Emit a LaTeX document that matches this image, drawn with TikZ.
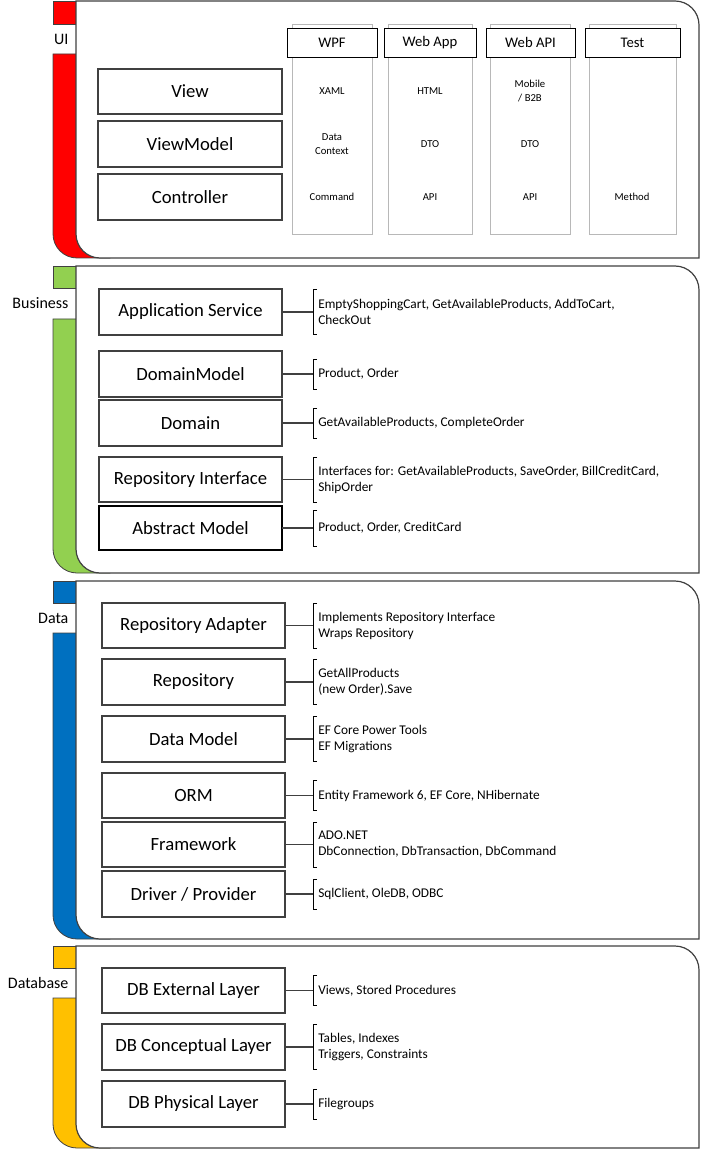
\documentclass[tikz,border=0pt]{standalone}
\usepackage{fontspec}
\setmainfont{Carlito}
\definecolor{uired}{HTML}{FF0000}
\definecolor{bizgreen}{HTML}{92D050}
\definecolor{datablue}{HTML}{0070C0}
\definecolor{dbgold}{HTML}{FFC000}
\definecolor{edge}{HTML}{404040}
\tikzset{
 box/.style={draw=edge, line width=0.8pt, fill=white, inner sep=0pt, outer sep=0pt, font=\fontsize{14}{16}\selectfont},
 panel/.style={draw=edge, line width=0.9pt, fill=white},
 bar/.style={draw=edge, line width=0.6pt},
 note/.style={anchor=west, align=left, inner sep=0pt, font=\fontsize{10}{12}\selectfont},
 link/.style={draw=edge, line width=0.8pt},
 brack/.style={draw=black, line width=0.7pt},
 colbox/.style={draw=black!28, line width=0.6pt, fill=white, inner sep=0pt, outer sep=0pt},
 head/.style={draw=black, line width=0.6pt, fill=white, inner sep=0pt, outer sep=0pt, font=\fontsize{11}{13}\selectfont},
 celltext/.style={align=center, inner sep=0pt, font=\fontsize{8}{10}\selectfont},
 layerlabel/.style={anchor=east, inner sep=1pt, font=\fontsize{12}{14}\selectfont},
}
% rectangle node by corners: style, name, x1, y1, x2, y2, text
\newcommand\rn[7]{\node[#1, minimum width={(#5-#3)*0.75pt}, minimum height={(#6-#4)*0.75pt}] (#2) at ({(#3+#5)/2},{(#4+#6)/2}) {#7};}
% layer: color, top, gap top, gap bottom, bottom, label, name
\newcommand\layer[7]{%
 \draw[bar, fill=#1] (53,#2) rectangle (76,#3);
 \draw[bar, fill=#1] (53,#4) -- (53,{#5-24}) .. controls (53,{#5-10.75}) and (63.75,#5) .. (77,#5) -- (110,#5) -- (110,#4) -- cycle;
 \draw[panel] (76,#2) -- (675,#2) .. controls (688.25,#2) and (699,{#2+10.75}) .. (699,{#2+24}) -- (699,#5) -- (100,#5) .. controls (86.75,#5) and (76,{#5-10.75}) .. (76,{#5-24}) -- cycle;
 \node[layerlabel] (#7) at (70,{(#3+#4)/2}) {#6};}
% bracket: name, box, y centre, half height, text
\newcommand\brk[5]{%
 \coordinate (#1) at (313,#3);
 \draw[link] (#2.east) -- (#2.east -| #1);
 \draw[brack] (317,{#3-#4}) -- (313,{#3-#4}) -- (313,{#3+#4}) -- (317,{#3+#4});
 \node[note] (#1t) at (318,#3) {#5};}
\begin{document}
\begin{tikzpicture}[x=0.75pt,y=-0.75pt]
\useasboundingbox (0,0) rectangle (700,1151);
% ---------------- UI
\layer{uired}{1}{24}{54}{258}{UI}{lui}
\rn{box}{view}{98}{69}{282}{114}{View}
\rn{box}{viewmodel}{98}{121}{282}{167}{ViewModel}
\rn{box}{controller}{98}{174}{282}{220}{Controller}
\rn{colbox}{cwpf}{292}{24}{372}{234}{}
\rn{colbox}{cwapp}{388}{24}{472}{234}{}
\rn{colbox}{cwapi}{490}{24}{570}{234}{}
\rn{colbox}{ctest}{589}{24}{676}{234}{}
\rn{head}{hwpf}{287}{28}{377}{57}{WPF}
\rn{head}{hwapp}{384}{28}{476}{57}{Web App}
\rn{head}{hwapi}{486}{28}{575}{57}{Web API}
\rn{head}{htest}{585}{28}{680}{57}{Test}
\node[celltext] (wpf1) at (332,91) {XAML};
\node[celltext] (wpf2) at (332,144) {Data\\Context};
\node[celltext] (wpf3) at (332,197) {Command};
\node[celltext] (app1) at (430,91) {HTML};
\node[celltext] (app2) at (430,144) {DTO};
\node[celltext] (app3) at (430,197) {API};
\node[celltext] (api1) at (530,91) {Mobile\\/ B2B};
\node[celltext] (api2) at (530,144) {DTO};
\node[celltext] (api3) at (530,197) {API};
\node[celltext] (tst3) at (632,197) {Method};
% ---------------- Business
\layer{bizgreen}{266}{288}{319}{573}{Business}{lbiz}
\rn{box}{appsvc}{99}{289}{282}{335}{Application Service}
\rn{box}{dommodel}{99}{351}{282}{397}{DomainModel}
\rn{box}{domain}{99}{400}{282}{446}{Domain}
\rn{box}{repoif}{99}{457}{282}{502}{Repository Interface}
\rn{box,draw=black}{absmodel}{99}{506}{282}{550}{Abstract Model}
\brk{b1}{appsvc}{312}{22.5}{EmptyShoppingCart, GetAvailableProducts, AddToCart,\\CheckOut}
\brk{b2}{dommodel}{374}{15}{Product, Order}
\brk{b3}{domain}{423}{15}{GetAvailableProducts, CompleteOrder}
\brk{b4}{repoif}{479.5}{22.5}{Interfaces for: GetAvailableProducts, SaveOrder, BillCreditCard,\\ShipOrder}
\brk{b5}{absmodel}{528}{18}{Product, Order, CreditCard}
% ---------------- Data
\layer{datablue}{581}{603}{633}{939}{Data}{ldata}
\rn{box}{repoad}{102}{603}{285}{648}{Repository Adapter}
\rn{box}{repo}{102}{659}{285}{705}{Repository}
\rn{box}{datamodel}{102}{716}{285}{762}{Data Model}
\rn{box}{orm}{102}{773}{285}{818}{ORM}
\rn{box}{framework}{102}{822}{285}{867}{Framework}
\rn{box}{driver}{102}{871}{285}{917}{Driver / Provider}
\brk{d1}{repoad}{625.5}{22.5}{Implements Repository Interface\\Wraps Repository}
\brk{d2}{repo}{682}{22.5}{GetAllProducts\\(new Order).Save}
\brk{d3}{datamodel}{739}{22.5}{EF Core Power Tools\\EF Migrations}
\brk{d4}{orm}{795.5}{15}{Entity Framework 6, EF Core, NHibernate}
\brk{d5}{framework}{844.5}{22.5}{ADO.NET\\DbConnection, DbTransaction, DbCommand}
\brk{d6}{driver}{894}{15}{SqlClient, OleDB, ODBC}
% ---------------- Database
\layer{dbgold}{946}{968}{998}{1148}{Database}{ldb}
\rn{box}{dbext}{102}{968}{285}{1013}{DB External Layer}
\rn{box}{dbcon}{102}{1024}{285}{1070}{DB Conceptual Layer}
\rn{box}{dbphy}{102}{1081}{285}{1127}{DB Physical Layer}
\brk{e1}{dbext}{990.5}{15}{Views, Stored Procedures}
\brk{e2}{dbcon}{1047}{22.5}{Tables, Indexes\\Triggers, Constraints}
\brk{e3}{dbphy}{1104}{15}{Filegroups}
\end{tikzpicture}
\end{document}
